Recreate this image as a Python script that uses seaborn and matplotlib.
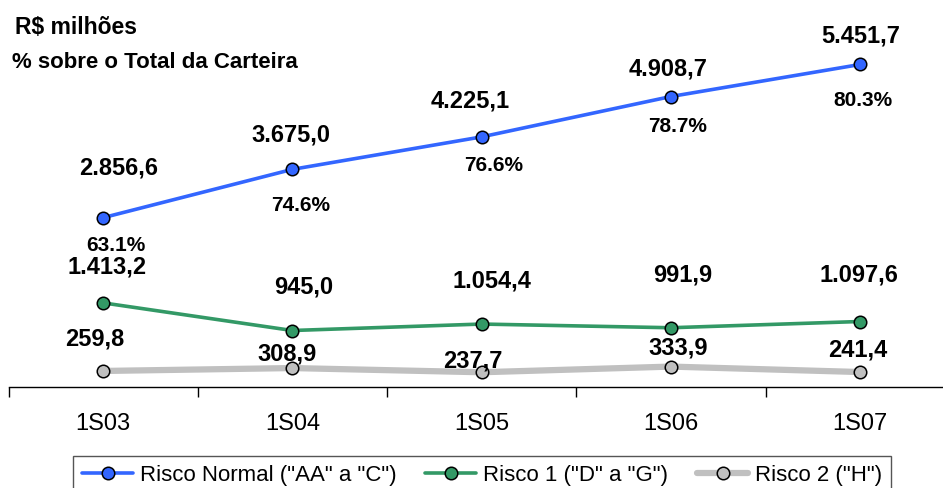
import numpy as np
import pandas as pd
import matplotlib
matplotlib.use("Agg")
import matplotlib.pyplot as plt
from matplotlib.ticker import FixedLocator
import seaborn as sns

sns.set_style("white")
plt.rcParams['font.family'] = ['Liberation Sans', 'DejaVu Sans']
plt.rcParams['text.color'] = 'black'
plt.rcParams['xtick.color'] = 'black'
plt.rcParams['axes.labelcolor'] = 'black'

# dados (R$ milhões)
periods = ["1S03", "1S04", "1S05", "1S06", "1S07"]
normal = [2856.6, 3675.0, 4225.1, 4908.7, 5451.7]
risco1 = [1413.2, 945.0, 1054.4, 991.9, 1097.6]
risco2 = [259.8, 308.9, 237.7, 333.9, 241.4]
pct_normal = [63.1, 74.6, 76.6, 78.7, 80.3]

series_names = ['Risco Normal ("AA" a "C")', 'Risco 1 ("D" a "G")', 'Risco 2 ("H")']

df = pd.DataFrame({
    "periodo": periods * 3,
    "valor": normal + risco1 + risco2,
    "serie": [series_names[0]] * 5 + [series_names[1]] * 5 + [series_names[2]] * 5,
})

# label offsets in pixels
off_normal = [(16, 50), (-1, 34), (-11, 36), (-3, 28), (1, 28)]
off_pct = [(13, -28), (8, -36), (12, -29), (7, -30), (3, -36)]
off_r1 = [(4, 36), (11, 44), (10, 43), (12, 53), (-1, 47)]
off_r2 = [(-8, 32), (-5, 14), (-9, 11), (7, 19), (-2, 22)]


def br(v):
    return f"{v:,.1f}".replace(",", "X").replace(".", ",").replace("X", ".")


W, H = 943, 488
fig = plt.figure(figsize=(W / 100, H / 100), dpi=100)
ax = fig.add_axes([8.5 / W, (H - 387) / H, (W - 8.5) / W, 387 / H])

styles = {
    series_names[0]: dict(color="#3366FF", lw=2.6),
    series_names[1]: dict(color="#339966", lw=2.6),
    series_names[2]: dict(color="#C0C0C0", lw=4.5),
}
for name in series_names:
    st = styles[name]
    sns.lineplot(data=df[df.serie == name], x="periodo", y="valor", ax=ax,
                 color=st["color"], linewidth=st["lw"], marker="o",
                 markersize=9, markerfacecolor=st["color"],
                 markeredgecolor="black", markeredgewidth=1.1,
                 label=name, sort=False)

lbl = dict(ha="center", va="center", fontsize=17, fontweight="bold",
           textcoords="offset pixels", color="black")
for i in range(5):
    ax.annotate(br(normal[i]), (i, normal[i]), xytext=off_normal[i], **lbl)
    ax.annotate(f"{pct_normal[i]:.1f}%", (i, normal[i]), xytext=off_pct[i],
                ha="center", va="center", fontsize=15, fontweight="bold",
                textcoords="offset pixels", color="black")
    ax.annotate(br(risco1[i]), (i, risco1[i]), xytext=off_r1[i], **lbl)
    ax.annotate(br(risco2[i]), (i, risco2[i]), xytext=off_r2[i], **lbl)

ax.set_xlim(-0.5, -0.5 + (W - 8.5) / 189.25)
ax.set_ylim(-12, 6544)
ax.set_xlabel("")
ax.set_ylabel("")
ax.set_yticks([])
ax.set_xticks(range(5))
ax.set_xticklabels(periods, fontsize=17, color="black")
ax.xaxis.set_minor_locator(FixedLocator(np.arange(-0.5, 5, 1)))
ax.tick_params(axis="x", which="major", length=0, pad=19)
ax.tick_params(axis="x", which="minor", length=7, width=1, direction="out",
               color="black", bottom=True)
for s in ["top", "left", "right"]:
    ax.spines[s].set_visible(False)
ax.spines["bottom"].set_color("black")
ax.spines["bottom"].set_linewidth(1)

fig.text(15 / W, 1 - 27 / H, "R$ milhões", fontsize=16.5, fontweight="bold",
         ha="left", va="center", color="black")
fig.text(12 / W, 1 - 62 / H, "% sobre o Total da Carteira", fontsize=16,
         fontweight="bold", ha="left", va="center", color="black")

ax.get_legend().remove()
handles, labels = ax.get_legend_handles_labels()
leg = fig.legend(handles, labels, loc="upper center", ncol=3,
                 bbox_to_anchor=(482 / W, (H - 456) / H),
                 bbox_transform=fig.transFigure, fontsize=16,
                 frameon=True, fancybox=False, framealpha=1,
                 edgecolor="#555555", handlelength=2.3, handletextpad=0.3,
                 columnspacing=1.3, borderpad=0.4, borderaxespad=0)
leg.get_frame().set_linewidth(1)

fig.savefig("out.png", dpi=100)
